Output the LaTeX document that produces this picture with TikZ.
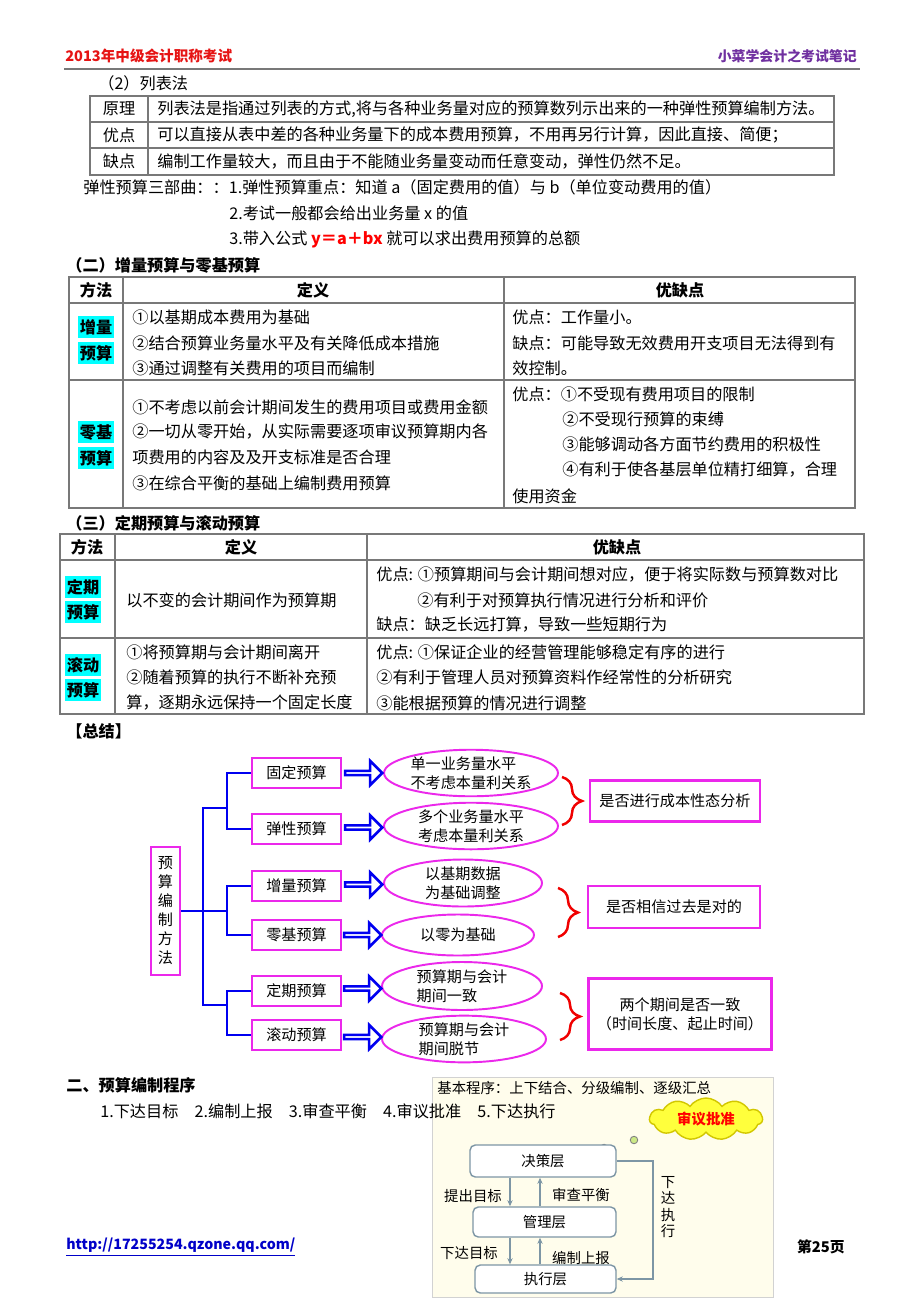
\documentclass[tikz,border=0pt]{standalone}
\usepackage{fontspec}
\setmainfont{Noto Sans CJK SC}
\usetikzlibrary{positioning,calc,shapes.geometric,shapes.arrows,shapes.symbols,decorations.pathreplacing,arrows.meta}

\definecolor{hdred}{RGB}{230,20,20}
\definecolor{hdpurple}{RGB}{112,48,160}
\definecolor{rulegray}{RGB}{120,120,120}
\definecolor{markcyan}{RGB}{0,255,255}
\definecolor{pinkline}{RGB}{235,40,235}
\definecolor{treeblue}{RGB}{0,0,240}
\definecolor{bracered}{RGB}{240,0,0}
\definecolor{paper}{RGB}{255,253,236}
\definecolor{flowgray}{RGB}{125,150,165}
\definecolor{cloudyellow}{RGB}{255,255,60}
\definecolor{linkblue}{RGB}{0,0,200}

\newcommand{\bodysize}{\fontsize{9.2pt}{11pt}\selectfont}
\newcommand{\chartsize}{\fontsize{8.6pt}{10.8pt}\selectfont}
\newcommand{\picsize}{\fontsize{8.2pt}{9.2pt}\selectfont}

\tikzset{
  txt/.style={anchor=west, inner sep=0pt, font=\bodysize},
  ctr/.style={inner sep=0pt, font=\bodysize},
  thead/.style={inner sep=0pt, font=\bodysize\bfseries},
  sectitle/.style={anchor=west, inner sep=0pt, font=\bodysize\bfseries},
  tablerule/.style={draw=rulegray, line width=0.7pt},
  cyanmark/.style={fill=markcyan, inner xsep=1pt, inner ysep=2pt, font=\bodysize\bfseries},
  rootbox/.style={draw=pinkline, line width=1.3pt, fill=white, minimum width=0.58cm,
    minimum height=2.56cm, inner sep=0pt, align=center, font=\chartsize},
  methodbox/.style={draw=pinkline, line width=1.3pt, fill=white, minimum width=1.78cm,
    minimum height=0.6cm, inner sep=0pt, font=\chartsize},
  ideaoval/.style={ellipse, draw=pinkline, line width=1.1pt, fill=white, inner sep=0pt,
    align=left, font=\chartsize},
  resultbox/.style={draw=pinkline, line width=1.3pt, fill=white, inner sep=0pt,
    align=center, font=\chartsize},
  treeline/.style={draw=treeblue, line width=1.5pt},
  hollowarrow/.style={single arrow, draw=treeblue, line width=1.5pt, fill=white,
    minimum height=0.74cm, minimum width=0.48cm, single arrow head extend=0.12cm, inner sep=0pt},
  redbrace/.style={draw=bracered, line width=1.4pt, decorate, decoration={brace, amplitude=0.4cm}},
  layer/.style={draw=flowgray, line width=0.8pt, fill=white, rounded corners=3pt,
    inner sep=0pt, font=\picsize},
  flow/.style={draw=flowgray, line width=0.7pt, -{Stealth[length=3.5pt, width=3pt]}},
  steplabel/.style={inner sep=0pt, font=\picsize},
}

\begin{document}
\begin{tikzpicture}[x=0.02cm, y=-0.02cm]
\useasboundingbox[fill=white] (0,0) rectangle (920,1302);

% 页眉
\node[anchor=west, inner sep=0pt, font=\fontsize{8.3pt}{10pt}\selectfont\bfseries, text=hdred] (pagehead) at (65,56) {2013年中级会计职称考试};
\node[anchor=east, inner sep=0pt, font=\fontsize{7.9pt}{10pt}\selectfont\bfseries, text=hdpurple] (pagenote) at (857,56) {小菜学会计之考试笔记};
\draw[rulegray, line width=0.6pt] (64,69) -- (860,69);

% 列表法
\node[txt] (listhead) at (98,83) {（2）列表法};
\draw[tablerule] (90,96) rectangle (834,175);
\foreach \y in {122,148} \draw[tablerule] (90,\y) -- (834,\y);
\draw[tablerule] (148,96) -- (148,175);
\node[ctr] (lbA) at (119,109) {原理};
\node[txt] (lbAtext) at (157,109) {列表法是指通过列表的方式,将与各种业务量对应的预算数列示出来的一种弹性预算编制方法。};
\node[ctr] (lbB) at (119,135) {优点};
\node[txt] (lbBtext) at (157,135) {可以直接从表中差的各种业务量下的成本费用预算，不用再另行计算，因此直接、简便；};
\node[ctr] (lbC) at (119,161) {缺点};
\node[txt] (lbCtext) at (157,161) {编制工作量较大，而且由于不能随业务量变动而任意变动，弹性仍然不足。};

% 三部曲
\node[txt] (triA) at (83,187) {弹性预算三部曲：：1.弹性预算重点：知道 a（固定费用的值）与 b（单位变动费用的值）};
\node[txt] (triB) at (229,213) {2.考试一般都会给出业务量 x 的值};
\node[txt] (triC) at (229,239) {3.带入公式 {\bfseries\color{red}y＝a＋bx} 就可以求出费用预算的总额};

% 表二
\node[sectitle] (secTwo) at (66,265) {（二）增量预算与零基预算};
\draw[tablerule] (69,277) rectangle (855,508);
\foreach \y in {303,380} \draw[tablerule] (69,\y) -- (855,\y);
\foreach \x in {123,504} \draw[tablerule] (\x,277) -- (\x,508);
\node[thead] (twoH1) at (96,290) {方法};
\node[thead] (twoH2) at (313,290) {定义};
\node[thead] (twoH3) at (680,290) {优缺点};
\node[cyanmark] (zlA) at (96,327) {增量};
\node[cyanmark] (zlB) at (96,353) {预算};
\node[txt] (zlD1) at (132,317) {①以基期成本费用为基础};
\node[txt] (zlD2) at (132,343) {②结合预算业务量水平及有关降低成本措施};
\node[txt] (zlD3) at (132,368) {③通过调整有关费用的项目而编制};
\node[txt] (zlP1) at (512,317) {优点：工作量小。};
\node[txt] (zlP2) at (512,343) {缺点：可能导致无效费用开支项目无法得到有};
\node[txt] (zlP3) at (512,368) {效控制。};
\node[cyanmark] (ljA) at (96,432) {零基};
\node[cyanmark] (ljB) at (96,458) {预算};
\node[txt] (ljD1) at (132,407) {①不考虑以前会计期间发生的费用项目或费用金额};
\node[txt] (ljD2) at (132,432) {②一切从零开始，从实际需要逐项审议预算期内各};
\node[txt] (ljD3) at (132,457) {项费用的内容及及开支标准是否合理};
\node[txt] (ljD4) at (132,483) {③在综合平衡的基础上编制费用预算};
\node[txt] (ljP1) at (512,394) {优点：①不受现有费用项目的限制};
\node[txt] (ljP2) at (562,419) {②不受现行预算的束缚};
\node[txt] (ljP3) at (562,444) {③能够调动各方面节约费用的积极性};
\node[txt] (ljP4) at (562,470) {④有利于使各基层单位精打细算，合理};
\node[txt] (ljP5) at (512,496) {使用资金};

% 表三
\node[sectitle] (secThree) at (66,523) {（三）定期预算与滚动预算};
\draw[tablerule] (60,534) rectangle (864,714);
\foreach \y in {560,638} \draw[tablerule] (60,\y) -- (864,\y);
\foreach \x in {115,367} \draw[tablerule] (\x,534) -- (\x,714);
\node[thead] (thrH1) at (87,547) {方法};
\node[thead] (thrH2) at (241,547) {定义};
\node[thead] (thrH3) at (617,547) {优缺点};
\node[cyanmark] (dqA) at (83,587) {定期};
\node[cyanmark] (dqB) at (83,612) {预算};
\node[txt] (dqD1) at (126,600) {以不变的会计期间作为预算期};
\node[txt] (dqP1) at (376,575) {优点: ①预算期间与会计期间想对应，便于将实际数与预算数对比};
\node[txt] (dqP2) at (417,600) {②有利于对预算执行情况进行分析和评价};
\node[txt] (dqP3) at (376,625) {缺点：缺乏长远打算，导致一些短期行为};
\node[cyanmark] (gdA) at (83,665) {滚动};
\node[cyanmark] (gdB) at (83,690) {预算};
\node[txt] (gdD1) at (126,652) {①将预算期与会计期间离开};
\node[txt] (gdD2) at (126,677) {②随着预算的执行不断补充预};
\node[txt] (gdD3) at (126,703) {算，逐期永远保持一个固定长度};
\node[txt] (gdP1) at (376,652) {优点: ①保证企业的经营管理能够稳定有序的进行};
\node[txt] (gdP2) at (376,677) {②有利于管理人员对预算资料作经常性的分析研究};
\node[txt] (gdP3) at (376,703) {③能根据预算的情况进行调整};

% 总结图
\node[sectitle] (summary) at (66,731) {【总结】};
\node[rootbox] (root) at (165.5,911) {预\\算\\编\\制\\方\\法};
\node[methodbox] (fixed) at (296.5,773) {固定预算};
\node[methodbox] (flex) at (296.5,829) {弹性预算};
\node[methodbox] (incr) at (296.5,886) {增量预算};
\node[methodbox] (zero) at (296.5,935) {零基预算};
\node[methodbox] (period) at (296.5,991) {定期预算};
\node[methodbox] (rolling) at (296.5,1035) {滚动预算};

\coordinate (trunk) at (203,911);
\coordinate (fork1) at (227,808);
\coordinate (fork2) at (227,911);
\coordinate (fork3) at (227,1005);
\draw[treeline] (root.east) -- (trunk);
\draw[treeline] (trunk) |- (fork1) (trunk) |- (fork3) (trunk) -- (fork2);
\draw[treeline] (fixed.west) -| (fork1) |- (flex.west);
\draw[treeline] (incr.west) -| (fork2) |- (zero.west);
\draw[treeline] (period.west) -| (fork3) |- (rolling.west);

\node[ideaoval, minimum width=3.48cm, minimum height=0.92cm] (ovFixed) at (471,773) {单一业务量水平\\不考虑本量利关系};
\node[ideaoval, minimum width=3.48cm, minimum height=0.86cm] (ovFlex) at (471,826) {多个业务量水平\\考虑本量利关系};
\node[ideaoval, minimum width=3.16cm, minimum height=0.94cm] (ovIncr) at (463,883) {以基期数据\\为基础调整};
\node[ideaoval, minimum width=3.04cm, minimum height=0.82cm] (ovZero) at (458,935) {以零为基础};
\node[ideaoval, minimum width=3.2cm, minimum height=0.96cm] (ovPeriod) at (462,986) {预算期与会计\\期间一致};
\node[ideaoval, minimum width=3.28cm, minimum height=0.84cm] (ovRolling) at (464,1039) {预算期与会计\\期间脱节};

\node[hollowarrow] (arFixed) at ($(fixed.east)!0.5!(ovFixed.west)$) {};
\node[hollowarrow] (arFlex) at ($(flex.east)!0.5!(ovFlex.west)$) {};
\node[hollowarrow] (arIncr) at ($(incr.east)!0.5!(ovIncr.west)$) {};
\node[hollowarrow] (arZero) at ($(zero.east)!0.5!(ovZero.west)$) {};
\node[hollowarrow] (arPeriod) at ($(period.east)!0.5!(ovPeriod.west)$) {};
\node[hollowarrow] (arRolling) at ($(rolling.east)!0.5!(ovRolling.west)$) {};

\coordinate (brA1) at (562,777); \coordinate (brA2) at (562,825);
\coordinate (brB1) at (558,888); \coordinate (brB2) at (558,937);
\coordinate (brC1) at (560,993); \coordinate (brC2) at (560,1040);
\draw[redbrace] (brA1) -- (brA2);
\draw[redbrace] (brB1) -- (brB2);
\draw[redbrace] (brC1) -- (brC2);

\node[resultbox, minimum width=3.4cm, minimum height=0.82cm] (askA) at (675,801) {是否进行成本性态分析};
\node[resultbox, minimum width=3.44cm, minimum height=0.84cm] (askB) at (674,907) {是否相信过去是对的};
\node[resultbox, minimum width=3.66cm, minimum height=1.42cm] (askC) at (680,1014) {两个期间是否一致\\（时间长度、起止时间）};

% 预算编制程序（插图）
\fill[paper] (432,1077) rectangle (773,1297);
\draw[gray!35, line width=0.4pt] (432,1077) rectangle (773,1297);
\node[anchor=west, inner sep=0pt, font=\picsize] (procTitle) at (437,1088) {基本程序：上下结合、分级编制、逐级汇总};
\node[cloud, cloud puffs=11, cloud puff arc=110, aspect=2.7, draw=yellow!60!olive, fill=cloudyellow,
  line width=0.8pt, minimum width=2.26cm, minimum height=0.84cm, inner sep=0pt,
  font=\picsize\bfseries, text=red] (approve) at (706,1119) {审议批准};
\node[circle, draw=gray, fill=yellow!60!green!50, line width=0.5pt, minimum size=0.15cm, inner sep=0pt] (bubbleA) at (634,1140) {};
\node[circle, draw=gray, fill=white, line width=0.5pt, minimum size=0.11cm, inner sep=0pt] (bubbleB) at (604,1147) {};
\node[circle, fill=black!70, minimum size=0.05cm, inner sep=0pt] (bubbleC) at (580,1157) {};

\node[layer, minimum width=2.92cm, minimum height=0.64cm] (decide) at (543,1161) {决策层};
\node[layer, minimum width=2.86cm, minimum height=0.6cm] (manage) at (544.5,1222) {管理层};
\node[layer, minimum width=2.82cm, minimum height=0.56cm] (execute) at (545.5,1279) {执行层};

\coordinate (downx) at (510,1200);
\coordinate (upx) at (540,1200);
\draw[flow] (decide.south -| downx) -- (manage.north -| downx);
\draw[flow] (manage.north -| upx) -- (decide.south -| upx);
\draw[flow] (manage.south -| downx) -- (execute.north -| downx);
\draw[flow] (execute.north -| upx) -- (manage.south -| upx);
\node[steplabel] (lbRaise) at (473,1196) {提出目标};
\node[steplabel] (lbCheck) at (581,1195) {审查平衡};
\node[steplabel] (lbIssue) at (469,1253) {下达目标};
\node[steplabel] (lbReport) at (581,1258) {编制上报};

\coordinate (sideturn) at (653,1220);
\draw[flow] (decide.east) -| (sideturn) |- (execute.east);
\node[steplabel, align=center] (lbExec) at (668,1207) {下\\达\\执\\行};

% 预算编制程序
\node[sectitle] (secProc) at (66,1085) {二、预算编制程序};
\node[txt] (procSteps) at (100,1111) {1.下达目标\quad 2.编制上报\quad 3.审查平衡\quad 4.审议批准\quad 5.下达执行};

% 页脚
\node[anchor=west, inner sep=0pt, font=\fontsize{8.1pt}{10pt}\selectfont\bfseries, text=linkblue] (footlink) at (66,1247) {\underline{http://17255254.qzone.qq.com/}};
\node[anchor=east, inner sep=0pt, font=\fontsize{8.4pt}{10pt}\selectfont\bfseries] (footpage) at (845,1247) {第25页};
\end{tikzpicture}
\end{document}
